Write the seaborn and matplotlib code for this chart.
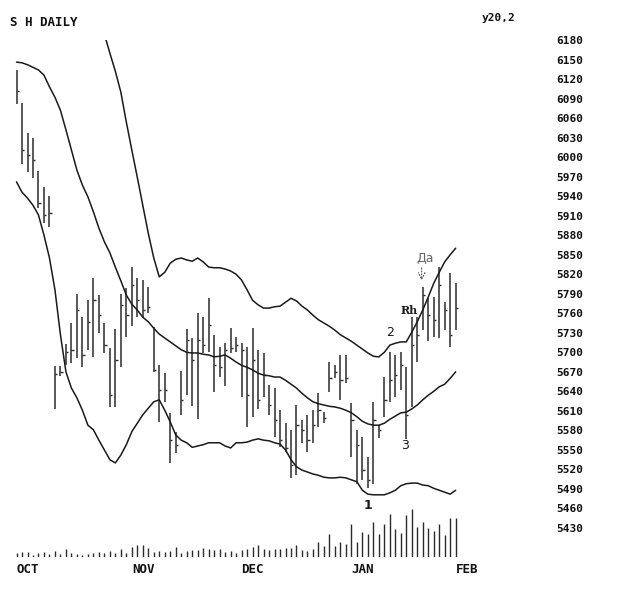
import numpy as np
import matplotlib
matplotlib.use("Agg")
import matplotlib.pyplot as plt
import seaborn as sns

# daily bars, Oct -> Feb
highs = [6134, 6083, 6037, 6029, 5979, 5954, 5940, 5679, 5679, 5713,
         5745, 5790, 5754, 5780, 5814, 5788, 5745, 5707, 5736, 5790,
         5799, 5831, 5814, 5811, 5800, 5739, 5680, 5668, 5607, 5577,
         5671, 5736, 5722, 5760, 5754, 5783, 5727, 5708, 5714, 5737,
         5724, 5714, 5708, 5737, 5704, 5699, 5650, 5645, 5611, 5591,
         5581, 5619, 5596, 5604, 5611, 5637, 5608, 5685, 5680, 5696,
         5696, 5622, 5581, 5570, 5539, 5624, 5588, 5662, 5700, 5696,
         5700, 5677, 5754, 5754, 5800, 5783, 5785, 5831, 5777, 5822, 5807]
lows = [6082, 5989, 5977, 5968, 5922, 5899, 5893, 5613, 5664, 5680,
        5684, 5691, 5677, 5704, 5693, 5730, 5699, 5616, 5616, 5677,
        5724, 5740, 5754, 5753, 5760, 5670, 5593, 5624, 5530, 5545,
        5604, 5634, 5617, 5597, 5699, 5701, 5639, 5662, 5648, 5699,
        5701, 5631, 5585, 5601, 5613, 5631, 5604, 5570, 5554, 5547,
        5507, 5511, 5561, 5547, 5561, 5585, 5591, 5639, 5660, 5627,
        5653, 5539, 5498, 5504, 5491, 5498, 5568, 5601, 5624, 5631,
        5642, 5567, 5616, 5685, 5734, 5717, 5724, 5722, 5734, 5708, 5734]
closes = [6102, 6011, 6003, 5996, 5929, 5911, 5914, 5667, 5670, 5700,
          5704, 5765, 5696, 5747, 5780, 5757, 5711, 5634, 5688, 5773,
          5757, 5803, 5780, 5765, 5770, 5673, 5642, 5642, 5565, 5558,
          5627, 5719, 5688, 5719, 5711, 5742, 5680, 5677, 5704, 5707,
          5711, 5704, 5634, 5688, 5627, 5665, 5619, 5596, 5565, 5553,
          5527, 5588, 5581, 5565, 5588, 5611, 5599, 5660, 5670, 5657,
          5660, 5596, 5558, 5519, 5504, 5596, 5581, 5627, 5657, 5665,
          5680, 5604, 5711, 5727, 5788, 5757, 5750, 5803, 5765, 5727, 5768]

# 20-day bands
band_mid = [6146, 6145, 6142, 6138, 6134, 6126, 6108, 6092, 6072, 6042,
            6011, 5980, 5957, 5939, 5916, 5891, 5870, 5853, 5831, 5810,
            5788, 5774, 5765, 5754, 5747, 5737, 5728, 5722, 5716, 5710,
            5704, 5700, 5699, 5699, 5697, 5696, 5693, 5694, 5696, 5691,
            5685, 5680, 5677, 5673, 5668, 5665, 5664, 5662, 5662, 5657,
            5651, 5645, 5637, 5630, 5624, 5621, 5619, 5617, 5616, 5614,
            5611, 5607, 5601, 5594, 5590, 5588, 5588, 5591, 5597, 5602,
            5607, 5608, 5613, 5619, 5627, 5634, 5640, 5647, 5651, 5660, 5670]
band_low = [5962, 5946, 5937, 5926, 5911, 5880, 5845, 5796, 5727, 5670,
            5645, 5630, 5611, 5588, 5581, 5565, 5550, 5535, 5530, 5542,
            5558, 5578, 5591, 5604, 5614, 5624, 5627, 5611, 5593, 5573,
            5565, 5561, 5554, 5556, 5558, 5561, 5561, 5561, 5556, 5553,
            5561, 5561, 5562, 5565, 5567, 5565, 5564, 5561, 5559, 5550,
            5535, 5524, 5519, 5516, 5513, 5511, 5508, 5507, 5507, 5508,
            5507, 5504, 5501, 5488, 5482, 5481, 5481, 5481, 5484, 5488,
            5495, 5498, 5499, 5499, 5496, 5495, 5491, 5488, 5485, 5482, 5488]
band_up = [np.nan] * 16 + [
            6189, 6160, 6132, 6100, 6054, 6011, 5969, 5926, 5883, 5845, 5816,
            5823, 5837, 5843, 5845, 5842, 5840, 5845, 5839, 5831, 5830,
            5830, 5828, 5825, 5820, 5811, 5796, 5780, 5773, 5768, 5768,
            5770, 5771, 5777, 5783, 5779, 5771, 5765, 5757, 5750, 5745,
            5740, 5734, 5727, 5722, 5717, 5711, 5705, 5699, 5694, 5693,
            5700, 5711, 5714, 5716, 5716, 5731, 5747, 5765, 5785, 5806,
            5823, 5839, 5850, 5860]

# volume, hundreds of contracts
volume = [4, 5, 5, 2, 4, 5, 3, 6, 3, 8, 4, 3, 2, 3, 4, 5, 4, 6, 4, 8, 4,
          10, 12, 12, 9, 5, 6, 5, 6, 10, 4, 6, 7, 7, 9, 8, 7, 8, 5, 6, 4,
          7, 8, 10, 12, 8, 7, 8, 8, 9, 9, 12, 7, 6,
          8, 15, 11, 23, 11, 15, 13, 33, 15, 25, 23, 35, 23, 33, 43, 28, 24,
          42, 48, 30, 35, 29, 26, 33, 22, 39, 39]

month_pos = [0, 21, 41, 61, 80]
month_labels = ["OCT", "NOV", "DEC", "JAN", "FEB"]
price_ticks = list(range(6180, 5429, -30))

sns.set_theme(style="white")
plt.rcParams["font.family"] = ["DejaVu Sans Mono", "DejaVu Sans"]

idx = np.arange(len(highs))
ink = "#1a1a1a"

fig = plt.figure(figsize=(6.23, 5.90), dpi=100)
ax = fig.add_axes([5 / 623, 30 / 590, 540 / 623, 520.3 / 590])
ax.set_xlim(-2.1, 96.27)
ax.set_ylim(5380.8, 6180.5)

# price bars
ax.vlines(idx, lows, highs, color="#2b2b2b", lw=1.1)
ax.hlines(closes, idx, idx + 0.4, color="#2b2b2b", lw=1.0)

for band in (band_up, band_mid, band_low):
    sns.lineplot(x=idx, y=band, ax=ax, color=ink, lw=1.1, estimator=None)

for s in ax.spines.values():
    s.set_visible(False)
ax.grid(False)
ax.yaxis.tick_right()
ax.set_yticks(price_ticks)
ax.set_yticklabels([str(t) for t in price_ticks], fontweight="bold")
ax.tick_params(axis="y", length=0, pad=8, labelsize=8, labelcolor="#111111")
ax.set_xticks(month_pos)
ax.set_xticklabels(month_labels, fontweight="bold")
for lbl in ax.get_xticklabels():
    lbl.set_ha("left")
ax.tick_params(axis="x", length=0, pad=2, labelsize=9, labelcolor="#111111")
ax.set_xlabel("")
ax.set_ylabel("")

# volume strip at the bottom
vax = fig.add_axes([5 / 623, 33 / 590, 540 / 623, 60 / 590])
vax.set_xlim(ax.get_xlim())
vax.set_ylim(0, 60)
vax.vlines(idx, 0, volume, color="#2b2b2b", lw=1.0)
vax.axis("off")
vax.patch.set_alpha(0)

# labels and wave marks
fig.text(10 / 623, 1 - 22 / 590, "S H DAILY", fontsize=9, va="center",
         fontweight="bold", color="#111111")
fig.text(482 / 623, 1 - 18 / 590, "y20,2", fontsize=8, va="center",
         fontweight="bold", color="#111111")
ax.text(64.0, 5465, "1", fontsize=9, ha="center", va="center", family="DejaVu Sans",
        weight="bold", color=ink)
ax.text(68.0, 5730, "2", fontsize=9, ha="center", va="center", family="DejaVu Sans", color=ink)
ax.text(70.8, 5557, "3", fontsize=9, ha="center", va="center", family="DejaVu Sans", color=ink)
ax.text(71.5, 5765, "Rh", fontsize=8, ha="center", va="center", family="DejaVu Serif",
        weight="bold", color=ink)
ax.text(74.4, 5845, "Да", fontsize=9, ha="center", va="center", family="DejaVu Sans",
        color="#666666")
ax.annotate("", xy=(73.8, 5806), xytext=(73.8, 5834),
            arrowprops=dict(arrowstyle="->", color="#555555", lw=0.8, linestyle=":"))

fig.savefig("out.png", dpi=100)
plt.close(fig)
